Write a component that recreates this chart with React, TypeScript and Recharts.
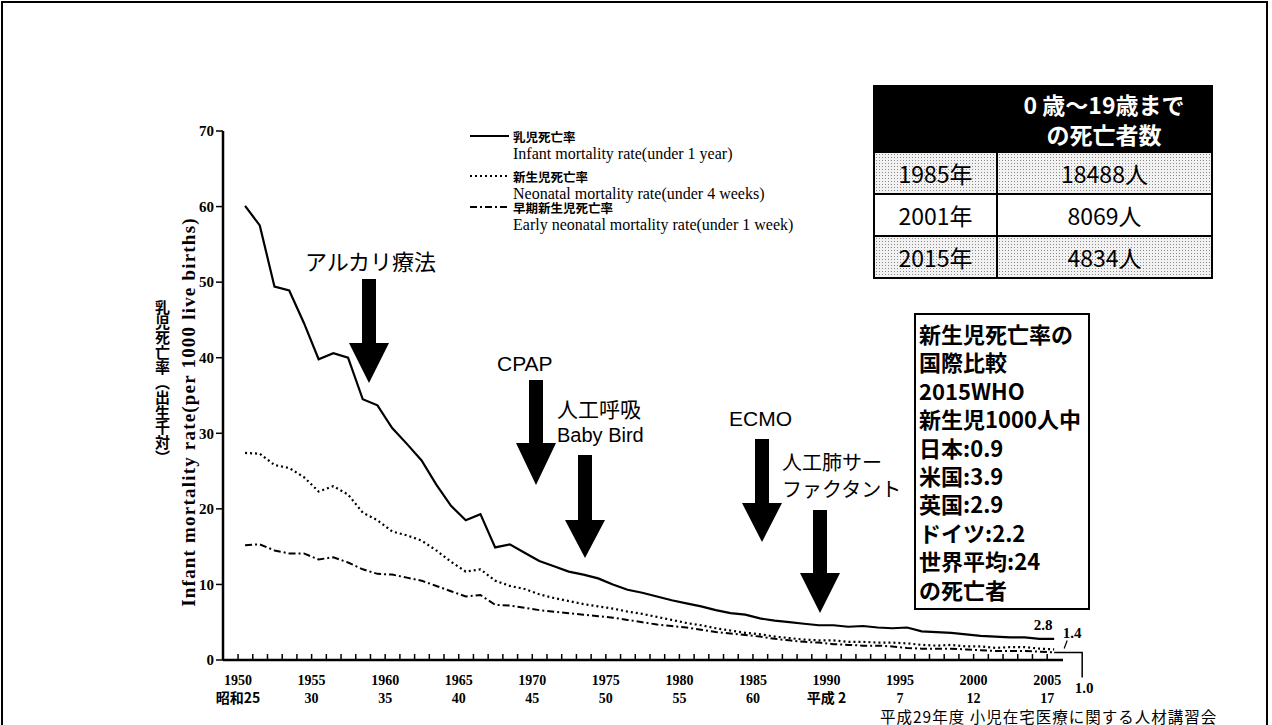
import React from 'react';
import { LineChart, Line, XAxis, YAxis } from 'recharts';

const years = [
  1950, 1951, 1952, 1953, 1954, 1955, 1956, 1957, 1958, 1959,
  1960, 1961, 1962, 1963, 1964, 1965, 1966, 1967, 1968, 1969,
  1970, 1971, 1972, 1973, 1974, 1975, 1976, 1977, 1978, 1979,
  1980, 1981, 1982, 1983, 1984, 1985, 1986, 1987, 1988, 1989,
  1990, 1991, 1992, 1993, 1994, 1995, 1996, 1997, 1998, 1999,
  2000, 2001, 2002, 2003, 2004, 2005,
];

// 乳児死亡率
const infantRate = [
  60.1, 57.5, 49.4, 48.9, 44.6, 39.8, 40.6, 40.0, 34.5, 33.7,
  30.7, 28.6, 26.4, 23.2, 20.4, 18.5, 19.3, 14.9, 15.3, 14.2,
  13.1, 12.4, 11.7, 11.3, 10.8, 10.0, 9.3, 8.9, 8.4, 7.9,
  7.5, 7.1, 6.6, 6.2, 6.0, 5.5, 5.2, 5.0, 4.8, 4.6,
  4.6, 4.4, 4.5, 4.3, 4.2, 4.3, 3.8, 3.7, 3.6, 3.4,
  3.2, 3.1, 3.0, 3.0, 2.8, 2.8,
];

// 新生児死亡率
const neonatalRate = [
  27.4, 27.3, 25.8, 25.4, 24.2, 22.3, 23.0, 21.9, 19.5, 18.5,
  17.0, 16.5, 15.8, 14.5, 13.0, 11.7, 12.0, 10.5, 9.8, 9.4,
  8.7, 8.2, 7.8, 7.4, 7.1, 6.8, 6.4, 6.1, 5.7, 5.3,
  4.9, 4.6, 4.2, 3.9, 3.6, 3.4, 3.1, 2.9, 2.7, 2.6,
  2.6, 2.4, 2.4, 2.3, 2.3, 2.2, 2.0, 1.9, 2.0, 1.8,
  1.8, 1.6, 1.7, 1.7, 1.5, 1.4,
];

// 早期新生児死亡率
const earlyNeonatalRate = [
  15.2, 15.3, 14.5, 14.1, 14.1, 13.3, 13.6, 12.9, 12.0, 11.4,
  11.3, 10.9, 10.5, 9.8, 9.1, 8.4, 8.6, 7.3, 7.2, 6.9,
  6.6, 6.4, 6.2, 6.0, 5.8, 5.6, 5.3, 5.0, 4.7, 4.5,
  4.3, 4.0, 3.7, 3.5, 3.3, 3.1, 2.8, 2.6, 2.4, 2.3,
  2.1, 2.0, 1.9, 1.9, 1.8, 1.6, 1.5, 1.5, 1.5, 1.4,
  1.3, 1.2, 1.2, 1.2, 1.1, 1.0,
];

const labelYears = [1950, 1955, 1960, 1965, 1970, 1975, 1980, 1985, 1990, 1995, 2000, 2005];
const eraLabels = ['昭和25', '30', '35', '40', '45', '50', '55', '60', '平成 2', '7', '12', '17'];
const yTicks = [0, 10, 20, 30, 40, 50, 60, 70];

const legendJp = ['乳児死亡率', '新生児死亡率', '早期新生児死亡率'];
const legendEn = [
  'Infant mortality rate(under 1 year)',
  'Neonatal mortality rate(under 4 weeks)',
  'Early neonatal mortality rate(under 1 week)',
];

const tableHeader = ['0 歳～19歳まで', 'の死亡者数'];
const tableYears = ['1985年', '2001年', '2015年'];
const tableDeaths = ['18488人', '8069人', '4834人'];

const boxLines = [
  '新生児死亡率の', '国際比較', '2015WHO', '新生児1000人中', '日本:0.9',
  '米国:3.9', '英国:2.9', 'ドイツ:2.2', '世界平均:24', 'の死亡者',
];

const rows = years.map((year, i) => ({
  year,
  infant: infantRate[i],
  neonatal: neonatalRate[i],
  early: earlyNeonatalRate[i],
}));

const SERIF = '"Liberation Serif", "Times New Roman", serif';
const JP = '"Noto Sans CJK JP", "Noto Sans", sans-serif';
const SANS = '"Liberation Sans", Arial, sans-serif';
const lastIdx = years.length - 1;

const YearTick = (props: any) => {
  const { x, y, payload } = props;
  const v = payload.value;
  const idx = labelYears.indexOf(v);
  const lx = x - 7;
  return (
    <g>
      <line x1={lx} x2={lx} y1={y} y2={y - 6} stroke="#000" strokeWidth={1.5} />
      {idx >= 0 && (
        <g fontFamily={SERIF} fontWeight={700} fontSize={14} fill="#000" textAnchor="middle">
          <text x={lx} y={y + 25}>{v}</text>
          <text x={lx} y={y + 43} fontFamily={idx === 0 || idx === 8 ? JP : SERIF}>{eraLabels[idx]}</text>
        </g>
      )}
    </g>
  );
};

const endText = { fontFamily: SERIF, fontWeight: 700, fontSize: 15, fill: '#000' };

const InfantEnd = (p: any) =>
  p.index === lastIdx ? (
    <text x={p.x - 11} y={p.y - 9} textAnchor="middle" {...endText}>{Number(p.value).toFixed(1)}</text>
  ) : <g />;

const NeonatalEnd = (p: any) =>
  p.index === lastIdx ? (
    <g>
      <line x1={p.x + 10} y1={p.y - 1} x2={p.x + 13} y2={p.y - 9} stroke="#000" strokeWidth={1.2} />
      <text x={p.x + 18} y={p.y - 11} textAnchor="middle" {...endText}>{Number(p.value).toFixed(1)}</text>
    </g>
  ) : <g />;

const EarlyEnd = (p: any) =>
  p.index === lastIdx ? (
    <g>
      <polyline points={`${p.x},${p.y} ${p.x + 28},${p.y} ${p.x + 28},${p.y + 25}`} fill="none" stroke="#000" strokeWidth={1.5} />
      <text x={p.x + 30} y={p.y + 41} textAnchor="middle" {...endText}>{Number(p.value).toFixed(1)}</text>
    </g>
  ) : <g />;

const Arrow = ({ cx, top, headTop, tip }: { cx: number; top: number; headTop: number; tip: number }) => (
  <polygon
    points={`${cx - 7},${top} ${cx + 7},${top} ${cx + 7},${headTop} ${cx + 20},${headTop} ${cx},${tip} ${cx - 20},${headTop} ${cx - 7},${headTop}`}
    fill="#000"
  />
);

const stipple = {
  backgroundColor: '#f2f2f2',
  backgroundImage: 'radial-gradient(#8a8a8a 0.7px, transparent 0.9px)',
  backgroundSize: '3px 3px',
};

const App = () => {
  const dashes = [undefined, '2 3', '7 3 2 3'];
  const legendY = [136, 176, 207];
  return (
    <div style={{ position: 'absolute', left: 0, top: 0, width: 1272, height: 725, background: '#fff', overflow: 'hidden' }}>
      <div style={{ position: 'absolute', left: 1, top: 1, width: 1267, height: 760, border: '2px solid #000', boxSizing: 'border-box' }} />

      <div style={{ position: 'absolute', left: 0, top: 0 }}>
        <LineChart width={1272} height={725} data={rows} margin={{ top: 131, right: 209, bottom: 15, left: 183 }}>
          <XAxis
            dataKey="year"
            type="number"
            domain={[1948.5, 2005.6]}
            ticks={years}
            interval={0}
            tickSize={0}
            tickMargin={0}
            tick={<YearTick />}
            axisLine={{ stroke: '#000', strokeWidth: 2.5 }}
            height={50}
            allowDataOverflow
          />
          <YAxis
            domain={[0, 70]}
            ticks={yTicks}
            width={40}
            tickSize={7}
            tickMargin={2}
            tickLine={{ stroke: '#000', strokeWidth: 1.5 }}
            axisLine={{ stroke: '#000', strokeWidth: 2.5 }}
            tick={{ fill: '#000', fontSize: 15, fontWeight: 700, fontFamily: SERIF }}
          />
          <Line dataKey="infant" stroke="#000" strokeWidth={2.2} dot={false} isAnimationActive={false} label={<InfantEnd />} />
          <Line dataKey="neonatal" stroke="#000" strokeWidth={2.2} strokeDasharray="2 3" dot={false} isAnimationActive={false} label={<NeonatalEnd />} />
          <Line dataKey="early" stroke="#000" strokeWidth={2} strokeDasharray="7 3 2 3" dot={false} isAnimationActive={false} label={<EarlyEnd />} />
        </LineChart>
      </div>

      <svg width={1272} height={725} style={{ position: 'absolute', left: 0, top: 0, pointerEvents: 'none' }}>
        {legendJp.map((jp, i) => (
          <g key={jp}>
            <line x1={470} x2={509} y1={legendY[i]} y2={legendY[i]} stroke="#000" strokeWidth={1.8} strokeDasharray={dashes[i]} />
            <text x={513} y={legendY[i]} dominantBaseline="central" fontFamily={JP} fontWeight={700} fontSize={12.5} fill="#000">{jp}</text>
            <text x={513} y={legendY[i] + 17.5} dominantBaseline="central" fontFamily={SERIF} fontSize={16} fill="#000">{legendEn[i]}</text>
          </g>
        ))}

        <text transform="translate(188,412) rotate(-90)" textAnchor="middle" dominantBaseline="central" fontFamily={SERIF} fontWeight={700} fontSize={19} letterSpacing={1.2} fill="#000">
          Infant mortality rate(per 1000 live births)
        </text>

        <Arrow cx={369} top={279} headTop={343} tip={383} />
        <Arrow cx={536} top={380} headTop={443} tip={485} />
        <Arrow cx={585} top={455} headTop={520} tip={558} />
        <Arrow cx={762} top={439} headTop={503} tip={542} />
        <Arrow cx={820} top={510} headTop={573} tip={613} />

        <g fill="#000" dominantBaseline="central">
          <text x={305} y={260} fontFamily={JP} fontSize={22}>アルカリ療法</text>
          <text x={497} y={363} fontFamily={SANS} fontSize={21}>CPAP</text>
          <text x={557} y={408} fontFamily={JP} fontSize={21}>人工呼吸</text>
          <text x={557} y={435} fontFamily={SANS} fontSize={20}>Baby Bird</text>
          <text x={729} y={418} fontFamily={SANS} fontSize={21}>ECMO</text>
          <text x={782} y={461} fontFamily={JP} fontSize={20}>人工肺サー</text>
          <text x={782} y={488} fontFamily={JP} fontSize={20}>ファクタント</text>
          <text x={880} y={716} fontFamily={JP} fontSize={15.5} letterSpacing={1}>平成29年度 小児在宅医療に関する人材講習会</text>
        </g>
      </svg>

      <div style={{ position: 'absolute', left: 154, top: 300, writingMode: 'vertical-rl', fontFamily: JP, fontWeight: 700, fontSize: 15, lineHeight: '16px', color: '#000' }}>
        乳児死亡率（出生千対）
      </div>

      <div style={{ position: 'absolute', left: 873, top: 85, width: 340, height: 194, border: '2px solid #000', boxSizing: 'border-box', fontFamily: JP, color: '#000' }}>
        <div style={{ position: 'absolute', left: 0, top: 0, right: 0, height: 64, background: '#000' }}>
          {tableHeader.map((t, i) => (
            <div key={t} style={{ position: 'absolute', left: 122, right: 0, top: 2 + i * 30, height: 30, lineHeight: '30px', textAlign: 'center', color: '#fff', fontWeight: 700, fontSize: 23 }}>
              {t}
            </div>
          ))}
        </div>
        {tableYears.map((yr, i) => (
          <div key={yr} style={{ position: 'absolute', left: 0, right: 0, top: 64 + i * 42, height: 42, borderTop: '2px solid #000', boxSizing: 'border-box', ...(i !== 1 ? stipple : {}) }}>
            <div style={{ position: 'absolute', left: 0, width: 121, top: 0, bottom: 0, lineHeight: '40px', textAlign: 'center', fontSize: 23 }}>{yr}</div>
            <div style={{ position: 'absolute', left: 121, top: 0, bottom: 0, borderLeft: '2px solid #000' }} />
            <div style={{ position: 'absolute', left: 123, right: 0, top: 0, bottom: 0, lineHeight: '40px', textAlign: 'center', fontSize: 23 }}>{tableDeaths[i]}</div>
          </div>
        ))}
      </div>

      <div style={{ position: 'absolute', left: 914, top: 313, width: 176, height: 297, border: '2px solid #000', boxSizing: 'border-box', background: '#fff', padding: '4px 0 0 3px', fontFamily: JP, fontWeight: 700, fontSize: 22, lineHeight: '28.4px', color: '#000' }}>
        {boxLines.map((l) => (
          <div key={l} style={{ whiteSpace: 'nowrap' }}>{l}</div>
        ))}
      </div>
    </div>
  );
};

export default App;
